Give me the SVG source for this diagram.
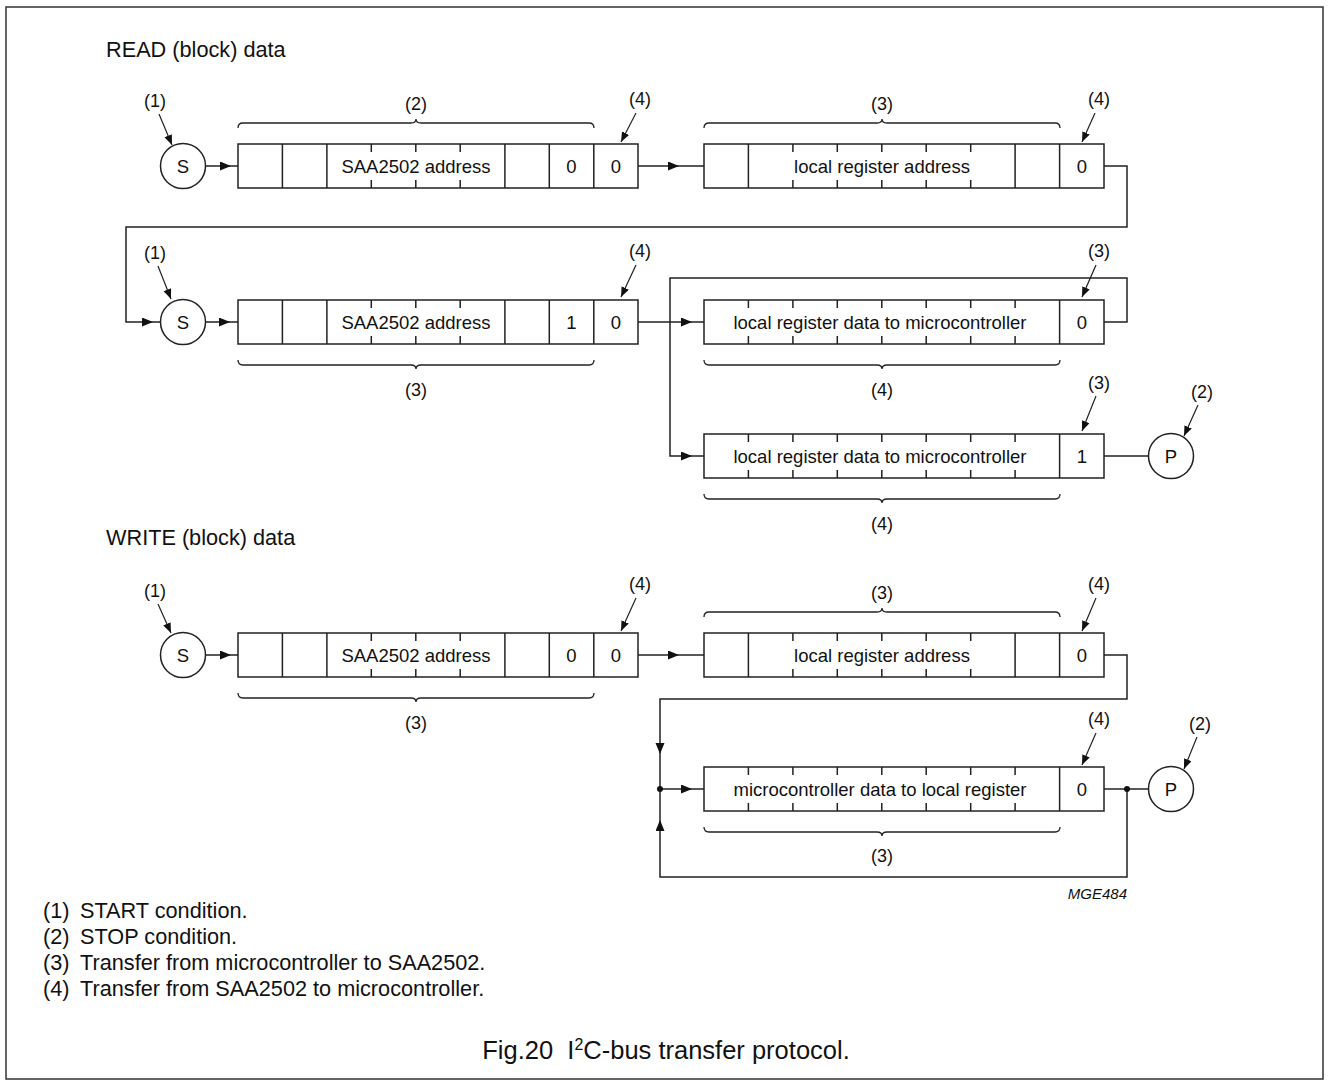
<svg xmlns="http://www.w3.org/2000/svg" xmlns:xlink="http://www.w3.org/1999/xlink" width="1330" height="1086" viewBox="0 0 1330 1086">
<style>
text{font-family:"Liberation Sans",Arial,Helvetica,sans-serif;fill:#111}
.t{font-size:18.5px;text-anchor:middle}
.lb{font-size:18px;text-anchor:middle}
.ttl{font-size:21.7px}
.lg{font-size:21.7px}
.cap{font-size:25.5px;text-anchor:middle}
.box{fill:#fff;stroke:#222;stroke-width:1.5}
.ln{fill:none;stroke:#222;stroke-width:1.5}
.br{fill:none;stroke:#222;stroke-width:1.3}
.cir{fill:#fff;stroke:#222;stroke-width:1.5}
.ptr{fill:none;stroke:#222;stroke-width:1.2}
</style>
<defs>
<marker id="ah" markerUnits="userSpaceOnUse" markerWidth="12" markerHeight="10" refX="11" refY="4.5" orient="auto"><path d="M0,0 L11,4.5 L0,9 Z" fill="#111"/></marker>
<marker id="ahs" markerUnits="userSpaceOnUse" markerWidth="12" markerHeight="10" refX="10" refY="4" orient="auto"><path d="M0,0 L10,4 L0,8 Z" fill="#111"/></marker>
</defs>
<rect x="6" y="7" width="1317" height="1072" fill="#fff" stroke="#333" stroke-width="1.5"/>

<text class="ttl" x="106" y="57">READ (block) data</text>
<text class="ttl" x="106" y="545">WRITE (block) data</text>

<!-- connectors -->
<g id="connectors">
<!-- row1 -->
<line class="ln" x1="205" y1="166" x2="231" y2="166" marker-end="url(#ah)"/>
<line class="ln" x1="231" y1="166" x2="238" y2="166"/>
<line class="ln" x1="638" y1="166" x2="679" y2="166" marker-end="url(#ah)"/>
<line class="ln" x1="679" y1="166" x2="704" y2="166"/>
<polyline class="ln" points="1104,166 1127,166 1127,227 126,227 126,322 153,322" marker-end="url(#ah)"/>
<line class="ln" x1="153" y1="322" x2="161" y2="322"/>
<!-- row2 -->
<line class="ln" x1="205" y1="322" x2="230" y2="322" marker-end="url(#ah)"/>
<line class="ln" x1="230" y1="322" x2="238" y2="322"/>
<line class="ln" x1="638" y1="322" x2="692" y2="322" marker-end="url(#ah)"/>
<line class="ln" x1="692" y1="322" x2="704" y2="322"/>
<polyline class="ln" points="1104,322 1127,322 1127,278 670,278 670,456 692,456" marker-end="url(#ah)"/>
<line class="ln" x1="692" y1="456" x2="704" y2="456"/>
<line class="ln" x1="1104" y1="456" x2="1149" y2="456"/>
<!-- write row1 -->
<line class="ln" x1="205" y1="655" x2="231" y2="655" marker-end="url(#ah)"/>
<line class="ln" x1="231" y1="655" x2="238" y2="655"/>
<line class="ln" x1="638" y1="655" x2="679" y2="655" marker-end="url(#ah)"/>
<line class="ln" x1="679" y1="655" x2="704" y2="655"/>
<polyline class="ln" points="1104,655 1127,655 1127,699 660,699 660,754" marker-end="url(#ah)"/>
<line class="ln" x1="660" y1="754" x2="660" y2="789"/>
<line class="ln" x1="660" y1="789" x2="692" y2="789" marker-end="url(#ah)"/>
<line class="ln" x1="692" y1="789" x2="704" y2="789"/>
<line class="ln" x1="1104" y1="789" x2="1149" y2="789"/>
<polyline class="ln" points="1127,789 1127,877 660,877 660,820" marker-end="url(#ah)"/>
<line class="ln" x1="660" y1="820" x2="660" y2="789"/>
<circle cx="660" cy="789" r="3" fill="#111"/>
<circle cx="1127" cy="789" r="3" fill="#111"/>

<!-- pointer arrows -->
<line class="ptr" x1="159" y1="114" x2="172" y2="145" marker-end="url(#ahs)"/>
<line class="ptr" x1="636" y1="113" x2="621" y2="142" marker-end="url(#ahs)"/>
<line class="ptr" x1="1095" y1="113" x2="1082" y2="142" marker-end="url(#ahs)"/>
<line class="ptr" x1="158" y1="266" x2="171" y2="299" marker-end="url(#ahs)"/>
<line class="ptr" x1="636" y1="265" x2="621" y2="297" marker-end="url(#ahs)"/>
<line class="ptr" x1="1096" y1="265" x2="1082" y2="297" marker-end="url(#ahs)"/>
<line class="ptr" x1="1096" y1="396" x2="1082" y2="431" marker-end="url(#ahs)"/>
<line class="ptr" x1="1198" y1="405" x2="1184" y2="436" marker-end="url(#ahs)"/>
<line class="ptr" x1="158" y1="604" x2="171" y2="633" marker-end="url(#ahs)"/>
<line class="ptr" x1="636" y1="598" x2="621" y2="631" marker-end="url(#ahs)"/>
<line class="ptr" x1="1096" y1="598" x2="1082" y2="631" marker-end="url(#ahs)"/>
<line class="ptr" x1="1096" y1="733" x2="1082" y2="765" marker-end="url(#ahs)"/>
<line class="ptr" x1="1197" y1="737" x2="1184" y2="769" marker-end="url(#ahs)"/>
</g>

<!-- START / STOP -->
<g id="s1"><circle class="cir" cx="183" cy="166" r="22.5"/><text class="t" x="183" y="173">S</text></g>
<g id="s2"><circle class="cir" cx="183" cy="322" r="22.5"/><text class="t" x="183" y="329">S</text></g>
<g id="s3"><circle class="cir" cx="183" cy="655" r="22.5"/><text class="t" x="183" y="662">S</text></g>
<g id="p1"><circle class="cir" cx="1171" cy="456" r="22.5"/><text class="t" x="1171" y="463">P</text></g>
<g id="p2"><circle class="cir" cx="1171" cy="789" r="22.5"/><text class="t" x="1171" y="796">P</text></g>

<!-- READ row1 address -->
<g id="r1a">
<rect class="box" x="238" y="144" width="400" height="44"/>
<path class="ln" d="M282.4,144V188M326.9,144V188M504.9,144V188M549.3,144V188M593.8,144V188M371.3,144v8M371.3,188v-8M415.8,144v8M415.8,188v-8M460.2,144v8M460.2,188v-8"/>
<text class="t" x="416" y="173">SAA2502 address</text>
<text class="t" x="571.5" y="173">0</text>
<text class="t" x="616" y="173">0</text>
</g>
<g id="r1b">
<rect class="box" x="704" y="144" width="400" height="44"/>
<path class="ln" d="M748.4,144V188M1015.1,144V188M1059.6,144V188M792.9,144v8M792.9,188v-8M837.3,144v8M837.3,188v-8M881.8,144v8M881.8,188v-8M926.2,144v8M926.2,188v-8M970.7,144v8M970.7,188v-8"/>
<text class="t" x="882" y="173">local register address</text>
<text class="t" x="1082" y="173">0</text>
</g>
<!-- READ row2 -->
<g id="r2a">
<rect class="box" x="238" y="300" width="400" height="44"/>
<path class="ln" d="M282.4,300V344M326.9,300V344M504.9,300V344M549.3,300V344M593.8,300V344M371.3,300v8M371.3,344v-8M415.8,300v8M415.8,344v-8M460.2,300v8M460.2,344v-8"/>
<text class="t" x="416" y="329">SAA2502 address</text>
<text class="t" x="571.5" y="329">1</text>
<text class="t" x="616" y="329">0</text>
</g>
<g id="r2b">
<rect class="box" x="704" y="300" width="400" height="44"/>
<path class="ln" d="M1059.6,300V344M748.4,300v8M748.4,344v-8M792.9,300v8M792.9,344v-8M837.3,300v8M837.3,344v-8M881.8,300v8M881.8,344v-8M926.2,300v8M926.2,344v-8M970.7,300v8M970.7,344v-8M1015.1,300v8M1015.1,344v-8"/>
<text class="t" x="880" y="329">local register data to microcontroller</text>
<text class="t" x="1082" y="329">0</text>
</g>
<g id="r3">
<rect class="box" x="704" y="434" width="400" height="44"/>
<path class="ln" d="M1059.6,434V478M748.4,434v8M748.4,478v-8M792.9,434v8M792.9,478v-8M837.3,434v8M837.3,478v-8M881.8,434v8M881.8,478v-8M926.2,434v8M926.2,478v-8M970.7,434v8M970.7,478v-8M1015.1,434v8M1015.1,478v-8"/>
<text class="t" x="880" y="463">local register data to microcontroller</text>
<text class="t" x="1082" y="463">1</text>
</g>
<!-- WRITE -->
<g id="w1a">
<rect class="box" x="238" y="633" width="400" height="44"/>
<path class="ln" d="M282.4,633V677M326.9,633V677M504.9,633V677M549.3,633V677M593.8,633V677M371.3,633v8M371.3,677v-8M415.8,633v8M415.8,677v-8M460.2,633v8M460.2,677v-8"/>
<text class="t" x="416" y="662">SAA2502 address</text>
<text class="t" x="571.5" y="662">0</text>
<text class="t" x="616" y="662">0</text>
</g>
<g id="w1b">
<rect class="box" x="704" y="633" width="400" height="44"/>
<path class="ln" d="M748.4,633V677M1015.1,633V677M1059.6,633V677M792.9,633v8M792.9,677v-8M837.3,633v8M837.3,677v-8M881.8,633v8M881.8,677v-8M926.2,633v8M926.2,677v-8M970.7,633v8M970.7,677v-8"/>
<text class="t" x="882" y="662">local register address</text>
<text class="t" x="1082" y="662">0</text>
</g>
<g id="w2">
<rect class="box" x="704" y="767" width="400" height="44"/>
<path class="ln" d="M1059.6,767V811M748.4,767v8M748.4,811v-8M792.9,767v8M792.9,811v-8M837.3,767v8M837.3,811v-8M881.8,767v8M881.8,811v-8M926.2,767v8M926.2,811v-8M970.7,767v8M970.7,811v-8M1015.1,767v8M1015.1,811v-8"/>
<text class="t" x="880" y="796">microcontroller data to local register</text>
<text class="t" x="1082" y="796">0</text>
</g>

<!-- braces -->
<g id="braces">
<path class="br" d="M238,128 Q238,123 243,123 L411,123 Q416,123 416,119 Q416,123 421,123 L589,123 Q594,123 594,128"/>
<path class="br" d="M704,128 Q704,123 709,123 L877,123 Q882,123 882,119 Q882,123 887,123 L1055,123 Q1060,123 1060,128"/>
<path class="br" d="M238,360 Q238,365 243,365 L411,365 Q416,365 416,369 Q416,365 421,365 L589,365 Q594,365 594,360"/>
<path class="br" d="M704,360 Q704,365 709,365 L877,365 Q882,365 882,369 Q882,365 887,365 L1055,365 Q1060,365 1060,360"/>
<path class="br" d="M704,494 Q704,499 709,499 L877,499 Q882,499 882,503 Q882,499 887,499 L1055,499 Q1060,499 1060,494"/>
<path class="br" d="M238,693 Q238,698 243,698 L411,698 Q416,698 416,702 Q416,698 421,698 L589,698 Q594,698 594,693"/>
<path class="br" d="M704,617 Q704,612 709,612 L877,612 Q882,612 882,608 Q882,612 887,612 L1055,612 Q1060,612 1060,617"/>
<path class="br" d="M704,827 Q704,832 709,832 L877,832 Q882,832 882,836 Q882,832 887,832 L1055,832 Q1060,832 1060,827"/>
</g>

<!-- labels -->
<g id="labels">
<text class="lb" x="155" y="107">(1)</text>
<text class="lb" x="416" y="110">(2)</text>
<text class="lb" x="640" y="105">(4)</text>
<text class="lb" x="882" y="110">(3)</text>
<text class="lb" x="1099" y="105">(4)</text>
<text class="lb" x="155" y="259">(1)</text>
<text class="lb" x="640" y="257">(4)</text>
<text class="lb" x="1099" y="257">(3)</text>
<text class="lb" x="416" y="396">(3)</text>
<text class="lb" x="882" y="396">(4)</text>
<text class="lb" x="1099" y="389">(3)</text>
<text class="lb" x="1202" y="398">(2)</text>
<text class="lb" x="882" y="530">(4)</text>
<text class="lb" x="155" y="597">(1)</text>
<text class="lb" x="640" y="590">(4)</text>
<text class="lb" x="882" y="599">(3)</text>
<text class="lb" x="1099" y="590">(4)</text>
<text class="lb" x="416" y="729">(3)</text>
<text class="lb" x="1099" y="725">(4)</text>
<text class="lb" x="1200" y="730">(2)</text>
<text class="lb" x="882" y="862">(3)</text>
<text x="1127" y="899" style="font-size:15px;font-style:italic;text-anchor:end">MGE484</text>
</g>

<g id="legend">
<text class="lg" x="43" y="918">(1)</text><text class="lg" x="80" y="918">START condition.</text>
<text class="lg" x="43" y="944">(2)</text><text class="lg" x="80" y="944">STOP condition.</text>
<text class="lg" x="43" y="970">(3)</text><text class="lg" x="80" y="970">Transfer from microcontroller to SAA2502.</text>
<text class="lg" x="43" y="996">(4)</text><text class="lg" x="80" y="996">Transfer from SAA2502 to microcontroller.</text>
</g>
<text class="cap" x="666" y="1059" xml:space="preserve">Fig.20  I<tspan dy="-9" style="font-size:16px">2</tspan><tspan dy="9">C-bus transfer protocol.</tspan></text>
</svg>
